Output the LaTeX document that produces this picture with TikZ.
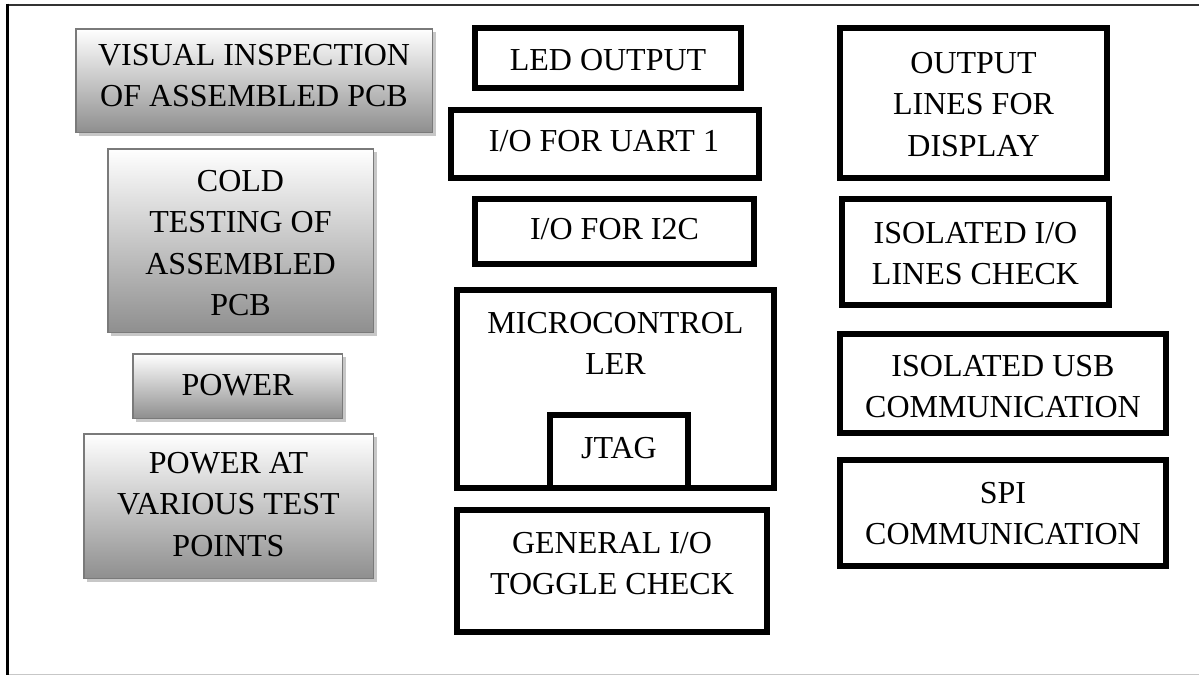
\documentclass[tikz,border=0pt]{standalone}
\usepackage{fontspec}
\setmainfont{Liberation Serif}
\usetikzlibrary{shadows}
\begin{document}
\begin{tikzpicture}[x=1pt,y=-1pt,
  gbox/.style={draw=black!52, line width=1.5pt, top color=white, middle color=black!14, bottom color=black!44,
     drop shadow={shadow xshift=3.5pt, shadow yshift=-3.5pt, fill=black!22, opacity=1}, inner sep=0pt},
  kbox/.style={draw=black, line width=6pt, fill=white, inner sep=0pt},
  txt/.style={font=\fontsize{32}{41.5}\selectfont, align=center, inner sep=0pt, anchor=north}]
\useasboundingbox (0,0) rectangle (1199,675);
\fill[white] (0,0) rectangle (1199,675);
% frame
\draw[line width=2pt, black!80] (6,4.5) -- (1199,4.5);
\draw[line width=3pt, black] (7.5,3.5) -- (7.5,675);
\draw[line width=1pt, black!22] (9,674) -- (1199,674);

% left column
\node[gbox, minimum width=356.5pt, minimum height=103.5pt] (vis) at (254,80.5) {};
\node[gbox, minimum width=265.5pt, minimum height=183.5pt] (cold) at (240.5,240.5) {};
\node[gbox, minimum width=209.5pt, minimum height=64.5pt] (pow) at (237.5,386) {};
\node[gbox, minimum width=289.5pt, minimum height=144.5pt] (powat) at (228.5,506) {};
\node[txt] (tvis) at (254,44) {VISUAL INSPECTION\\OF ASSEMBLED PCB};
\node[txt] (tcold) at (240.5,170) {COLD\\TESTING OF\\ASSEMBLED\\PCB};
\node[txt] (tpow) at (237.5,374) {POWER};
\node[txt] (tpowat) at (228.5,452) {POWER AT\\VARIOUS TEST\\POINTS};

% middle column
\node[kbox, minimum width=266pt, minimum height=60pt] (led) at (608,58) {};
\node[kbox, minimum width=308pt, minimum height=68pt] (uart) at (605,144) {};
\node[kbox, minimum width=279pt, minimum height=65pt] (itc) at (614.5,231.5) {};
\node[kbox, minimum width=317pt, minimum height=198pt] (mcu) at (615.5,389) {};
\node[kbox, minimum width=138pt, minimum height=73pt] (jtag) at (619,451.5) {};
\node[kbox, minimum width=310pt, minimum height=122pt] (gen) at (612,571) {};
\node[txt] (tled) at (608,49) {LED OUTPUT};
\node[txt] (tuart) at (604,130) {I/O FOR UART 1};
\node[txt] (titc) at (614.5,218) {I/O FOR I2C};
\node[txt] (tmcu) at (615.5,312) {MICROCONTROL\\LER};
\node[txt] (tjtag) at (619,437) {JTAG};
\node[txt] (tgen) at (612,532) {GENERAL I/O\\TOGGLE CHECK};

% right column
\node[kbox, minimum width=267pt, minimum height=150pt] (disp) at (973.5,103) {};
\node[kbox, minimum width=267pt, minimum height=106pt] (isoio) at (975.5,252) {};
\node[kbox, minimum width=326pt, minimum height=99pt] (usb) at (1003,383.5) {};
\node[kbox, minimum width=326pt, minimum height=106pt] (spi) at (1003,513) {};
\node[txt] (tdisp) at (973.5,52) {OUTPUT\\LINES FOR\\DISPLAY};
\node[txt] (tisoio) at (975.5,222) {ISOLATED I/O\\LINES CHECK};
\node[txt] (tusb) at (1003,355) {ISOLATED USB\\COMMUNICATION};
\node[txt] (tspi) at (1003,482) {SPI\\COMMUNICATION};
\end{tikzpicture}
\end{document}
